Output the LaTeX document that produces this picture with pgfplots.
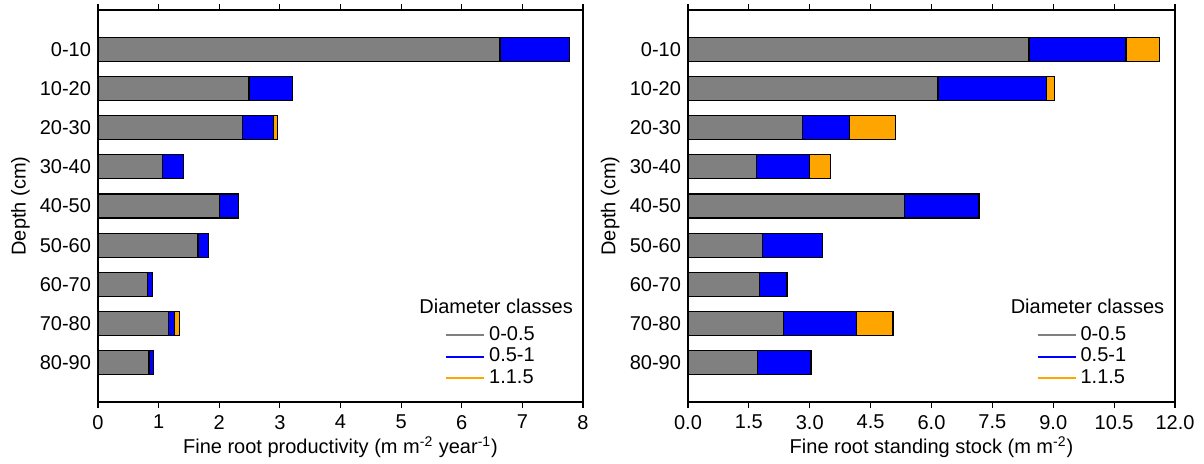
\documentclass[border=0pt]{standalone}
\usepackage{pgfplots}
\pgfplotsset{compat=1.18}
\usepackage{fontspec}
\setmainfont{Liberation Sans}

\definecolor{barGray}{RGB}{128,128,128}
\definecolor{barBlue}{RGB}{0,0,255}
\definecolor{barOrange}{RGB}{255,165,0}

% Increments per diameter class (stacked): 0-0.5, 0.5-1, 1-1.5
\usepackage{pgfplotstable}
\pgfplotstableread{
depth  c1    c2    c3
1      6.63  1.15  0
2      2.49  0.72  0
3      2.38  0.51  0.07
4      1.07  0.34  0
5      2.01  0.31  0
6      1.65  0.17  0
7      0.81  0.09  0
8      1.16  0.10  0.08
9      0.84  0.07  0
}\productivity
\pgfplotstableread{
depth  c1    c2    c3
1      8.40  2.39  0.83
2      6.16  2.68  0.19
3      2.83  1.14  1.15
4      1.68  1.32  0.52
5      5.33  1.84  0
6      1.84  1.47  0
7      1.77  0.67  0
8      2.36  1.80  0.89
9      1.72  1.31  0
}\standing

\pgfplotsset{
  rootaxis/.style={
    scale only axis,
    height=196pt,
    xbar stacked,
    bar width=0.61,
    ymin=0, ymax=10,
    y dir=reverse,
    ytick={1,...,9},
    yticklabels={0-10,10-20,20-30,30-40,40-50,50-60,60-70,70-80,80-90},
    ytick style={draw=none},
    xtick align=outside,
    xtick style={black, line width=0.6pt},
    major tick length=3pt,
    axis line style={black, line width=0.8pt},
    /pgf/number format/assume math mode=true,
    tick label style={font=\fontsize{10}{12}\selectfont},
    label style={font=\fontsize{10}{12}\selectfont},
    ylabel={Depth (cm)},
    ylabel style={at={(axis description cs:-0.16,0.5)}, anchor=center},
    xlabel style={at={(axis description cs:0.5,-0.132)}, anchor=base},
    legend style={at={(0.715,0.205)}, anchor=north west, draw=none, fill=none,
      font=\fontsize{10}{12}\selectfont, inner xsep=0pt, inner ysep=0pt,
      row sep=-1.5pt},
    legend cell align=left,
    legend image code/.code={\draw[#1] (0pt,0pt) -- (19pt,0pt);},
  },
  seg/.style={draw=black, line width=0.6pt, fill=#1, forget plot},
}

\begin{document}
\begin{tikzpicture}
\useasboundingbox (0,0) rectangle (602pt,231.5pt);

% Fine root productivity
\begin{axis}[rootaxis,
  at={(49pt,30.5pt)}, anchor=south west,
  width=242.5pt,
  xmin=0, xmax=8, xtick={0,1,...,8},
  xlabel={Fine root productivity (m m\textsuperscript{-2} year\textsuperscript{-1})},
]
\addplot[seg=barGray]   table[x=c1, y=depth] {\productivity};
\addplot[seg=barBlue]   table[x=c2, y=depth] {\productivity};
\addplot[seg=barOrange] table[x=c3, y=depth] {\productivity};
\addlegendimage{barGray, line width=1pt}
\addlegendentry{0-0.5}
\addlegendimage{barBlue, line width=1pt}
\addlegendentry{0.5-1}
\addlegendimage{barOrange, line width=1pt}
\addlegendentry{1.1.5}
\node[anchor=west, inner sep=0pt, font=\fontsize{10}{12}\selectfont]
  at (rel axis cs:0.662,0.243) {Diameter classes};
\end{axis}

% Fine root standing stock
\begin{axis}[rootaxis,
  at={(344pt,30.5pt)}, anchor=south west,
  width=243.5pt,
  xmin=0, xmax=12, xtick={0,1.5,...,12},
  xticklabel style={/pgf/number format/.cd, fixed, fixed zerofill, precision=1},
  xlabel={Fine root standing stock (m m\textsuperscript{-2})},
]
\addplot[seg=barGray]   table[x=c1, y=depth] {\standing};
\addplot[seg=barBlue]   table[x=c2, y=depth] {\standing};
\addplot[seg=barOrange] table[x=c3, y=depth] {\standing};
\addlegendimage{barGray, line width=1pt}
\addlegendentry{0-0.5}
\addlegendimage{barBlue, line width=1pt}
\addlegendentry{0.5-1}
\addlegendimage{barOrange, line width=1pt}
\addlegendentry{1.1.5}
\node[anchor=west, inner sep=0pt, font=\fontsize{10}{12}\selectfont]
  at (rel axis cs:0.662,0.243) {Diameter classes};
\end{axis}
\end{tikzpicture}
\end{document}
